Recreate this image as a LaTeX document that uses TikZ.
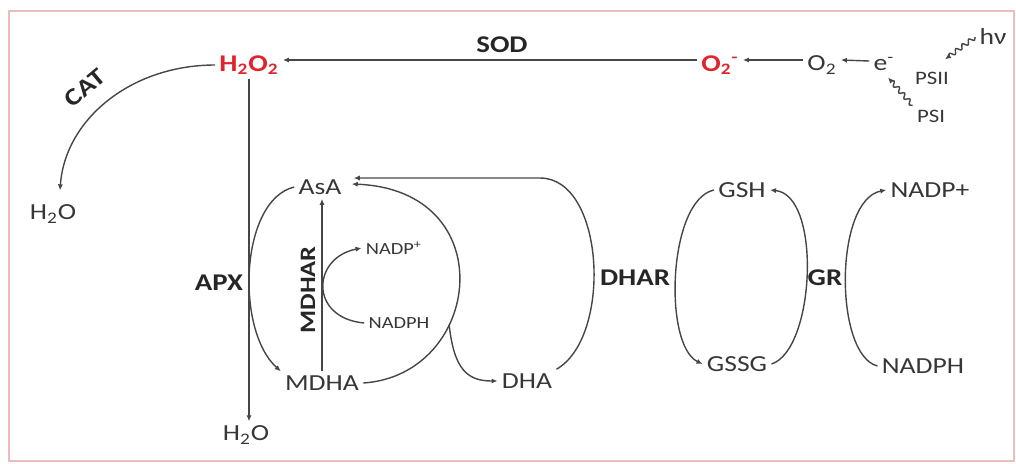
\documentclass[tikz,border=0pt]{standalone}
\usepackage{fontspec}
\setmainfont{Carlito}[FakeStretch=1.2]
\usetikzlibrary{arrows.meta}
\usetikzlibrary{calc}
\usetikzlibrary{decorations.pathmorphing}
\definecolor{inkgrey}{RGB}{70,70,70}
\definecolor{txtgrey}{RGB}{55,55,55}
\definecolor{rosred}{RGB}{225,35,45}
\definecolor{framepink}{RGB}{235,190,190}

\begin{document}
\begin{tikzpicture}[x=0.5pt, y=-0.5pt,
  every node/.style={inner sep=2pt, text=txtgrey, font=\fontsize{11.5}{13}\selectfont},
  enz/.style={text=black!85, font=\fontsize{12}{14}\selectfont\bfseries},
  ros/.style={text=rosred, font=\fontsize{12}{14}\selectfont\bfseries},
  smalllbl/.style={font=\fontsize{8.5}{10}\selectfont},
  arr/.style={draw=inkgrey, line width=0.7pt, -{Latex[length=3pt,width=2.6pt]}},
  wavy/.style={arr, decorate, decoration={snake, amplitude=1.1pt, segment length=4pt, post length=2pt}}]

  \useasboundingbox (0,0) rectangle (1016,463);
  \draw[framepink, line width=0.6pt] (9,11) rectangle (1014,461);

  % top row
  \node[ros] (h2o2) at (249,65) {H\textsubscript{2}O\textsubscript{2}};
  \node[enz] (sod) at (502,45) {SOD};
  \node[ros] (o2m) at (720,65) {O\textsubscript{2}\textsuperscript{-}};
  \node (o2) at (822,65) {O\textsubscript{2}};
  \node (em) at (884,64) {e\textsuperscript{-}};
  \node (hv) at (993,37) {hν};
  \node[font=\fontsize{9.5}{11}\selectfont] (psii) at (932,78) {PSII};
  \node[font=\fontsize{9.5}{11}\selectfont] (psi) at (931,116) {PSI};

  \draw[arr] ($(o2m.west)+(0,-5)$) -- ($(h2o2.east)+(0,-5)$);
  \draw[arr] ($(o2.west)+(0,-5)$) -- ($(o2m.east)+(0,-5)$);
  \draw[arr] ($(em.west)+(0,-3)$) -- ($(o2.east)+(0,-5)$);
  \draw[wavy] (hv.west) -- ($(psii.north)+(13,-8)$);
  \draw[wavy] (psi.north west) -- ($(em.south)+(4,2)$);

  % catalase
  \node (h2ol) at (53,214) {H\textsubscript{2}O};
  \node[enz, rotate=40] (cat) at (85,88) {CAT};
  \draw[arr] (h2o2.west) .. controls +(-84,0) and +(5,-71) .. ($(h2ol.north)+(7,-10)$);

  % ascorbate cycle
  \node (h2ob) at (246,435) {H\textsubscript{2}O};
  \node (asa) at (320,187) {AsA};
  \node (mdha) at (322,383) {MDHA};
  \node (dha) at (527,381) {DHA};
  \node[enz] (apx) at (219,283) {APX};
  \node[enz, rotate=90, font=\fontsize{11}{13}\selectfont\bfseries] (mdhar) at (308,290) {MDHAR};
  \node[smalllbl] (nadps) at (394,248) {NADP\textsuperscript{+}};
  \node[smalllbl] (nadphs) at (399,323) {NADPH};
  \coordinate (ascorner) at ($(asa.east)+(8,-9)$);

  \draw[arr] (h2o2.south) -- (h2o2.south |- h2ob.north);
  \draw[arr] (asa.west) .. controls (240,200) and (235,330) .. (mdha.north west);
  \draw[arr] (mdha.north) -- (mdha.north |- asa.south);
  \draw[arr] (nadphs.west) .. controls +(-55,-5) and +(-50,10) .. (nadps.west);
  \draw[arr] (mdha.east) .. controls +(119,-8) and +(152,6) .. coordinate[pos=0.35] (fork) ($(asa.east)+(6,-3)$);
  \draw[arr] (fork) .. controls +(5,45) and +(-30,0) .. (dha.west);
  \draw[arr] (dha.north east) .. controls +(56,-32) and +(65,0) .. ($(ascorner -| dha.north)+(13,0)$) -- (ascorner);

  % glutathione cycle
  \node[enz] (dhar) at (635,278) {DHAR};
  \node (gsh) at (742,190) {GSH};
  \node (gssg) at (737,364) {GSSG};
  \node[enz] (gr) at (825,278) {GR};
  \node (nadp) at (930,190) {NADP+};
  \node (nadph) at (923,366) {NADPH};

  \draw[arr] (gsh.west) .. controls (668,200) and (663,345) .. (gssg.west);
  \draw[arr] (gssg.east) .. controls (815,350) and (822,195) .. (gsh.east);
  \draw[arr] (nadph.west) .. controls (834,355) and (834,200) .. (nadp.west);
\end{tikzpicture}
\end{document}
